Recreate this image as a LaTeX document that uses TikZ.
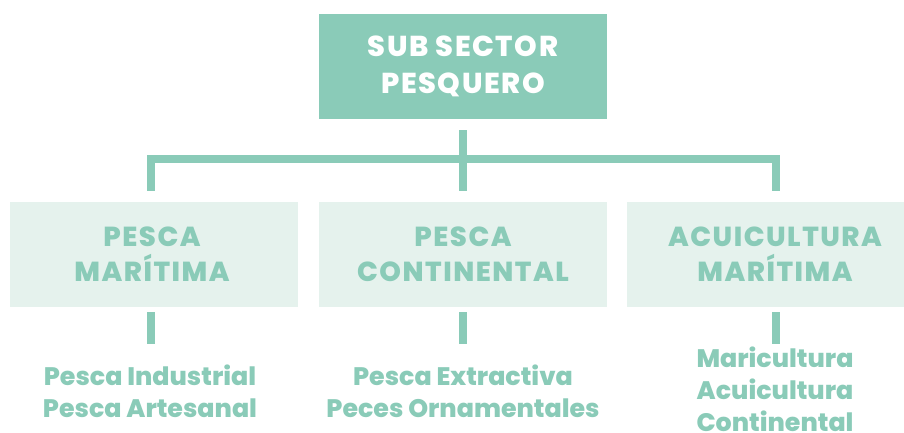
\documentclass[tikz,border=0pt]{standalone}
\usepackage{fontspec}
\setmainfont{Poppins}[BoldFont={Poppins ExtraBold}]
\newfontfamily\capsfont{Poppins}[BoldFont={Poppins ExtraBold},LetterSpace=5.5]
\definecolor{teal}{HTML}{8ACBB8}
\definecolor{lightteal}{HTML}{E5F2ED}
\tikzset{
  topbox/.style={fill=teal, minimum width=288, minimum height=105, inner sep=0pt},
  toptext/.style={text=white, font=\capsfont\fontsize{28.8}{37}\selectfont\bfseries, align=center},
  midtext/.style={text=teal, font=\capsfont\fontsize{27.5}{35}\selectfont\bfseries, align=center},
  leaftext/.style={text=teal, font=\fontsize{25.3}{32}\selectfont\bfseries, align=center},
  conn/.style={draw=teal, line width=8pt, line join=miter},
}
\begin{document}
\begin{tikzpicture}[x=1pt,y=-1pt]
\useasboundingbox (0,0) rectangle (904,432);
% top box
\node[topbox] (t) at (463,66.5) {};
\node[toptext] (tt) at (463,66.5) {SUB SECTOR\\PESQUERO};
% level boxes
\fill[lightteal] (10,202) rectangle (298,306.7);
\fill[lightteal] (319,202) rectangle (607,306.7);
\fill[lightteal] (627,202) rectangle (904,306.7);
\node[midtext] (a) at (152,254.5) {PESCA\\MARÍTIMA};
\node[midtext] (b) at (463,254.5) {PESCA\\CONTINENTAL};
\node[midtext] (c) at (775,254.5) {ACUICULTURA\\MARÍTIMA};
% leaves
\node[leaftext] (la) at (150,391) {Pesca Industrial\\Pesca Artesanal};
\node[leaftext] (lb) at (463,391) {Pesca Extractiva\\Peces Ornamentales};
\node[leaftext] (lc) at (775,389) {Maricultura\\Acuicultura\\Continental};
% connector coordinates
\coordinate (t0) at (463,130);
\coordinate (t1) at (463,190.7);
\coordinate (h1) at (150.5,159);
\coordinate (h2) at (775.5,159);
\coordinate (a0) at (150.5,190.7);
\coordinate (c0) at (775.5,190.7);
\coordinate (a1) at (150.5,312);
\coordinate (a2) at (150.5,344);
\coordinate (b1) at (463,312);
\coordinate (b2) at (463,344);
\coordinate (c1) at (775.5,312);
\coordinate (c2) at (775.5,344);
\draw[conn] (t0) -- (t1);
\draw[conn] (a0) -- (h1) -- (h2) -- (c0);
\draw[conn] (a1) -- (a2);
\draw[conn] (b1) -- (b2);
\draw[conn] (c1) -- (c2);
\end{tikzpicture}
\end{document}
